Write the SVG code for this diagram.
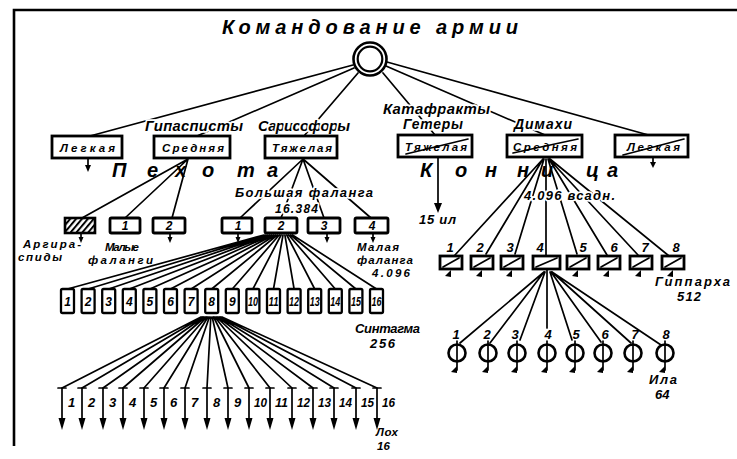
<svg xmlns="http://www.w3.org/2000/svg" width="737" height="459" viewBox="0 0 737 459">
<defs>
<pattern id="hatch" patternUnits="userSpaceOnUse" width="4.5" height="4.5" patternTransform="rotate(40)">
<rect width="4.5" height="4.5" fill="#fff"/>
<line x1="1" y1="0" x2="1" y2="4.5" stroke="#000" stroke-width="2"/>
</pattern>
</defs>
<style>
.t{font-family:"Liberation Sans","DejaVu Sans",Arial,sans-serif;font-style:italic;font-weight:bold;fill:#000}
.h{paint-order:stroke;stroke:#fff;stroke-width:3.5;stroke-linejoin:round}
.c{stroke:#000;stroke-width:1.7;fill:none;stroke-linecap:round}
.b{fill:#fff;stroke:#000;stroke-width:2.8}
.s{fill:#fff;stroke:#000;stroke-width:2.3}
.k{fill:#000;stroke:none}
.f{fill:none;stroke:#000;stroke-width:2.6}
.m{font-size:11.5px}
</style>
<rect width="737" height="459" fill="#fff"/>
<g id="frame"><path class="f" d="M14 446V10H737"/></g>

<text class="t" x="222" y="34" font-size="20" textLength="296" lengthAdjust="spacing">Командование армии</text>

<g id="connectors">
<path class="c" d="M353 65L90 136M354 68L197 136M358 73L304 136M383 73L435 135M386 66L545 135M387 62L652 136"/>
<path class="c" d="M188 159L82 218M188 159L125 218M188 159L172 218"/>
<path class="c" d="M303 159L240 218M303 159L281 218M303 159L324 218M303 159L371 218"/>
<path class="c" d="M264 235L67.5 289M265.9 235L88.1 289M267.8 235L108.7 289M269.7 235L129.3 289M271.6 235L149.9 289M273.5 235L170.5 289M275.4 235L191.1 289M277.3 235L211.7 289M279.2 235L232.3 289M281.1 235L252.9 289M283 235L273.5 289M284.9 235L294.1 289M286.8 235L314.7 289M288.7 235L335.3 289M290.6 235L355.9 289M292.5 235L376.5 289"/>
<path class="c" d="M201 317L62 388M202.4 317L82 388M203.8 317L103 388M205.2 317L123 388M206.6 317L144 388M208 317L164 388M209.4 317L185 388M210.8 317L207 388M212.2 317L228 388M213.6 317L249 388M215 317L270 388M216.4 317L292 388M217.8 317L313 388M219.2 317L334 388M220.6 317L356 388M222 317L377 388"/>
<path class="c" d="M438 157V205"/>
<polygon class="k" points="434,203 442,203 438,213"/>
<path class="c" d="M543 159L455 255M543 159L486 254M544 159L515 254M546 159L546 256M548 159L577 254M549 159L607 255M549 159L638 255M550 159L669 256"/>
<path class="c" d="M544 272L460 343M544 272L490 343M545 272L520 340M547 270L547 328M550 272L572 340M551 272L601 342M552 272L631 343M552 272L661 345"/>
</g>

<g id="labels">
<text class="t h" x="145" y="131" font-size="15" textLength="98" lengthAdjust="spacing">Гипасписты</text>
<text class="t h" x="258" y="131" font-size="15" textLength="92" lengthAdjust="spacing">Сарисофоры</text>
<text class="t h" x="383" y="114" font-size="15" textLength="107" lengthAdjust="spacing">Катафракты</text>
<text class="t h" x="403" y="129" font-size="14" textLength="60" lengthAdjust="spacing">Гетеры</text>
<text class="t h" x="514" y="129" font-size="14" textLength="58" lengthAdjust="spacing">Димахи</text>
<text class="t" x="112 147 175 202 237 267" y="177" font-size="20">Пехота</text>
<text class="t" x="420 455 485 517 541 586 607" y="177" font-size="20">Конница</text>
<text class="t h" x="235" y="197" font-size="13" textLength="138" lengthAdjust="spacing">Большая фаланга</text>
<text class="t h" x="275" y="213" font-size="12" textLength="43" lengthAdjust="spacing">16.384</text>
<text class="t h" x="524" y="200" font-size="13" textLength="91" lengthAdjust="spacing">4.096 всадн.</text>
<text class="t" x="419" y="224" font-size="13" textLength="37" lengthAdjust="spacing">15 ил</text>
<text class="t m" x="23" y="248" textLength="58" lengthAdjust="spacing">Аргира-</text>
<text class="t m" x="18" y="261" textLength="44" lengthAdjust="spacing">спиды</text>
<text class="t m" x="105" y="251" textLength="34" lengthAdjust="spacing">Малые</text>
<text class="t m" x="88" y="264" textLength="65" lengthAdjust="spacing">фаланги</text>
<text class="t m" x="357" y="251" textLength="42" lengthAdjust="spacing">Малая</text>
<text class="t m" x="357" y="264" textLength="56" lengthAdjust="spacing">фаланга</text>
<text class="t m" x="372" y="277" textLength="38" lengthAdjust="spacing">4.096</text>
<text class="t" x="355" y="333" font-size="13" textLength="65" lengthAdjust="spacing">Синтагма</text>
<text class="t" x="370" y="348" font-size="13" textLength="25" lengthAdjust="spacing">256</text>
<text class="t m" x="376" y="436" textLength="22" lengthAdjust="spacing">Лох</text>
<text class="t m" x="377" y="450">16</text>
<text class="t" x="655" y="286" font-size="13" textLength="75" lengthAdjust="spacing">Гиппарха</text>
<text class="t" x="677" y="301" font-size="13" textLength="24" lengthAdjust="spacing">512</text>
<text class="t" x="649" y="384" font-size="13" textLength="28" lengthAdjust="spacing">Ила</text>
<text class="t" x="655" y="399" font-size="13">64</text>
</g>

<g id="command">
<circle cx="370" cy="59" r="16.5" fill="#fff" stroke="#000" stroke-width="2.6"/>
<circle cx="370" cy="59" r="12.3" fill="#fff" stroke="#000" stroke-width="2.2"/>
</g>

<g id="inf-light"><rect class="b" x="52" y="136" width="70" height="22"/><text class="t" x="60" y="151.5" font-size="11.5" textLength="55" lengthAdjust="spacing">Легкая</text>
<path class="c" d="M88 158V166"/><polygon class="k" points="85,165 91,165 88,172"/></g>
<g id="inf-medium"><rect class="b" x="154" y="136" width="76" height="22"/><text class="t" x="162" y="151.5" font-size="11.5" textLength="62" lengthAdjust="spacing">Средняя</text></g>
<g id="inf-heavy"><rect class="b" x="265" y="136" width="72" height="22"/><text class="t" x="272" y="151.5" font-size="11.5" textLength="60" lengthAdjust="spacing">Тяжелая</text></g>

<g id="cav-heavy"><rect class="b" x="398" y="135" width="74" height="22"/><path class="c" stroke-width="1.2" d="M406 154L468 139"/><text class="t" x="405" y="150.5" font-size="11.5" textLength="62" lengthAdjust="spacing">Тяжелая</text></g>
<g id="cav-medium"><rect class="b" x="507" y="135" width="75" height="22"/><path class="c" stroke-width="1.2" d="M513 153L578 139"/><text class="t" x="513" y="150.5" font-size="11.5" textLength="64" lengthAdjust="spacing">Средняя</text></g>
<g id="cav-light"><rect class="b" x="615" y="135" width="73" height="22"/><path class="c" stroke-width="1.2" d="M623 155L684 139"/><text class="t" x="627" y="150.5" font-size="11.5" textLength="53" lengthAdjust="spacing">Легкая</text>
<path class="c" d="M653 157V163"/><polygon class="k" points="650,162 656,162 653,168"/></g>

<g id="argyraspids"><rect x="65" y="218" width="30" height="15" fill="url(#hatch)" stroke="#000" stroke-width="2.6"/>
<path class="c" d="M81 233V238"/><polygon class="k" points="78.5,237 83.5,237 81,243"/></g>
<g id="small-phalanx-1"><rect class="b" x="110" y="218" width="30" height="15" rx="1.5"/><text class="t" x="125" y="230" font-size="12" text-anchor="middle">1</text></g>
<g id="small-phalanx-2"><rect class="b" x="153" y="218" width="32" height="15" rx="1.5"/><text class="t" x="169" y="230" font-size="12" text-anchor="middle">2</text>
<path class="c" d="M170 233V238"/><polygon class="k" points="167.5,237 172.5,237 170,243"/></g>

<g id="big-phalanx-1"><rect class="b" x="222" y="218" width="30" height="15" rx="1.5"/><text class="t" x="238" y="230" font-size="12" text-anchor="middle">1</text>
<path class="c" d="M238 233V238"/><polygon class="k" points="235.5,237 240.5,237 238,243"/></g>
<g id="big-phalanx-2"><rect class="b" x="265" y="218" width="32" height="15" rx="1.5"/><text class="t" x="281" y="230" font-size="12" text-anchor="middle">2</text></g>
<g id="big-phalanx-3"><rect class="b" x="308" y="218" width="32" height="15" rx="1.5"/><text class="t" x="324" y="230" font-size="12" text-anchor="middle">3</text>
<path class="c" d="M327 233V238"/><polygon class="k" points="324.5,237 329.5,237 327,243"/></g>
<g id="big-phalanx-4"><rect class="b" x="355" y="218" width="33" height="15" rx="1.5"/><text class="t" x="372" y="230" font-size="12" text-anchor="middle">4</text>
<path class="c" d="M373 233V238"/><polygon class="k" points="370.5,237 375.5,237 373,243"/></g>

<g id="syntagmata" font-size="12">
<g id="syntagma-1"><rect class="s" x="61" y="289" width="13" height="24" rx="1.5"/><text class="t" x="67.5" y="305.5" text-anchor="middle">1</text></g>
<g id="syntagma-2"><rect class="s" x="81.6" y="289" width="13" height="24" rx="1.5"/><text class="t" x="88.1" y="305.5" text-anchor="middle">2</text></g>
<g id="syntagma-3"><rect class="s" x="102.2" y="289" width="13" height="24" rx="1.5"/><text class="t" x="108.7" y="305.5" text-anchor="middle">3</text></g>
<g id="syntagma-4"><rect class="s" x="122.8" y="289" width="13" height="24" rx="1.5"/><text class="t" x="129.3" y="305.5" text-anchor="middle">4</text></g>
<g id="syntagma-5"><rect class="s" x="143.4" y="289" width="13" height="24" rx="1.5"/><text class="t" x="149.9" y="305.5" text-anchor="middle">5</text></g>
<g id="syntagma-6"><rect class="s" x="164" y="289" width="13" height="24" rx="1.5"/><text class="t" x="170.5" y="305.5" text-anchor="middle">6</text></g>
<g id="syntagma-7"><rect class="s" x="184.6" y="289" width="13" height="24" rx="1.5"/><text class="t" x="191.1" y="305.5" text-anchor="middle">7</text></g>
<g id="syntagma-8"><rect class="s" x="205.2" y="289" width="13" height="24" rx="1.5"/><text class="t" x="211.7" y="305.5" text-anchor="middle">8</text></g>
<g id="syntagma-9"><rect class="s" x="225.8" y="289" width="13" height="24" rx="1.5"/><text class="t" x="232.3" y="305.5" text-anchor="middle">9</text></g>
<g id="syntagma-10"><rect class="s" x="246.4" y="289" width="13" height="24" rx="1.5"/><text class="t" x="247.9" y="305.5" textLength="10" lengthAdjust="spacingAndGlyphs">10</text></g>
<g id="syntagma-11"><rect class="s" x="267" y="289" width="13" height="24" rx="1.5"/><text class="t" x="268.5" y="305.5" textLength="10" lengthAdjust="spacingAndGlyphs">11</text></g>
<g id="syntagma-12"><rect class="s" x="287.6" y="289" width="13" height="24" rx="1.5"/><text class="t" x="289.1" y="305.5" textLength="10" lengthAdjust="spacingAndGlyphs">12</text></g>
<g id="syntagma-13"><rect class="s" x="308.2" y="289" width="13" height="24" rx="1.5"/><text class="t" x="309.7" y="305.5" textLength="10" lengthAdjust="spacingAndGlyphs">13</text></g>
<g id="syntagma-14"><rect class="s" x="328.8" y="289" width="13" height="24" rx="1.5"/><text class="t" x="330.3" y="305.5" textLength="10" lengthAdjust="spacingAndGlyphs">14</text></g>
<g id="syntagma-15"><rect class="s" x="349.4" y="289" width="13" height="24" rx="1.5"/><text class="t" x="350.9" y="305.5" textLength="10" lengthAdjust="spacingAndGlyphs">15</text></g>
<g id="syntagma-16"><rect class="s" x="370" y="289" width="13" height="24" rx="1.5"/><text class="t" x="371.5" y="305.5" textLength="10" lengthAdjust="spacingAndGlyphs">16</text></g>
</g>

<g id="files" font-size="13">
<g id="lox-1"><path class="c" d="M58 388H66M62 388V420"/><polygon class="k" points="58.5,418 65.5,418 62,430"/><text class="t" x="68" y="407">1</text></g>
<g id="lox-2"><path class="c" d="M78 388H86M82 388V420"/><polygon class="k" points="78.5,418 85.5,418 82,430"/><text class="t" x="88" y="407">2</text></g>
<g id="lox-3"><path class="c" d="M99 388H107M103 388V420"/><polygon class="k" points="99.5,418 106.5,418 103,430"/><text class="t" x="109" y="407">3</text></g>
<g id="lox-4"><path class="c" d="M119 388H127M123 388V420"/><polygon class="k" points="119.5,418 126.5,418 123,430"/><text class="t" x="129" y="407">4</text></g>
<g id="lox-5"><path class="c" d="M140 388H148M144 388V420"/><polygon class="k" points="140.5,418 147.5,418 144,430"/><text class="t" x="150" y="407">5</text></g>
<g id="lox-6"><path class="c" d="M160 388H168M164 388V420"/><polygon class="k" points="160.5,418 167.5,418 164,430"/><text class="t" x="170" y="407">6</text></g>
<g id="lox-7"><path class="c" d="M181 388H189M185 388V420"/><polygon class="k" points="181.5,418 188.5,418 185,430"/><text class="t" x="191" y="407">7</text></g>
<g id="lox-8"><path class="c" d="M203 388H211M207 388V420"/><polygon class="k" points="203.5,418 210.5,418 207,430"/><text class="t" x="213" y="407">8</text></g>
<g id="lox-9"><path class="c" d="M224 388H232M228 388V420"/><polygon class="k" points="224.5,418 231.5,418 228,430"/><text class="t" x="234" y="407">9</text></g>
<g id="lox-10"><path class="c" d="M245 388H253M249 388V420"/><polygon class="k" points="245.5,418 252.5,418 249,430"/><text class="t" x="254" y="407" textLength="13" lengthAdjust="spacingAndGlyphs">10</text></g>
<g id="lox-11"><path class="c" d="M266 388H274M270 388V420"/><polygon class="k" points="266.5,418 273.5,418 270,430"/><text class="t" x="275" y="407" textLength="13" lengthAdjust="spacingAndGlyphs">11</text></g>
<g id="lox-12"><path class="c" d="M288 388H296M292 388V420"/><polygon class="k" points="288.5,418 295.5,418 292,430"/><text class="t" x="297" y="407" textLength="13" lengthAdjust="spacingAndGlyphs">12</text></g>
<g id="lox-13"><path class="c" d="M309 388H317M313 388V420"/><polygon class="k" points="309.5,418 316.5,418 313,430"/><text class="t" x="318" y="407" textLength="13" lengthAdjust="spacingAndGlyphs">13</text></g>
<g id="lox-14"><path class="c" d="M330 388H338M334 388V420"/><polygon class="k" points="330.5,418 337.5,418 334,430"/><text class="t" x="339" y="407" textLength="13" lengthAdjust="spacingAndGlyphs">14</text></g>
<g id="lox-15"><path class="c" d="M352 388H360M356 388V420"/><polygon class="k" points="352.5,418 359.5,418 356,430"/><text class="t" x="361" y="407" textLength="13" lengthAdjust="spacingAndGlyphs">15</text></g>
<g id="lox-16"><path class="c" d="M373 388H381M377 388V420"/><polygon class="k" points="373.5,418 380.5,418 377,430"/><text class="t" x="382" y="407" textLength="13" lengthAdjust="spacingAndGlyphs">16</text></g>
</g>

<g id="hipparchies" font-size="13">
<g id="hipparchy-1"><rect class="b" x="440" y="256" width="22" height="13"/><path class="c" stroke-width="1.3" d="M443 267L459 258"/><polygon class="k" points="451,270 451,277 445,276"/><text class="t" x="450" y="252" text-anchor="middle">1</text></g>
<g id="hipparchy-2"><rect class="b" x="471" y="256" width="22" height="13"/><path class="c" stroke-width="1.3" d="M474 267L490 258"/><polygon class="k" points="482,270 482,277 476,276"/><text class="t" x="480" y="252" text-anchor="middle">2</text></g>
<g id="hipparchy-3"><rect class="b" x="501" y="256" width="22" height="13"/><path class="c" stroke-width="1.3" d="M504 267L520 258"/><polygon class="k" points="512,270 512,277 506,276"/><text class="t" x="510" y="252" text-anchor="middle">3</text></g>
<g id="hipparchy-4"><rect class="b" x="533" y="256" width="27" height="13"/><path class="c" stroke-width="1.3" d="M536 267L557 258"/><text class="t" x="540" y="252" text-anchor="middle">4</text></g>
<g id="hipparchy-5"><rect class="b" x="567" y="256" width="22" height="13"/><path class="c" stroke-width="1.3" d="M570 267L586 258"/><polygon class="k" points="578,270 578,277 572,276"/><text class="t" x="583" y="252" text-anchor="middle">5</text></g>
<g id="hipparchy-6"><rect class="b" x="598" y="256" width="22" height="13"/><path class="c" stroke-width="1.3" d="M601 267L617 258"/><polygon class="k" points="609,270 609,277 603,276"/><text class="t" x="614" y="252" text-anchor="middle">6</text></g>
<g id="hipparchy-7"><rect class="b" x="630" y="256" width="22" height="13"/><path class="c" stroke-width="1.3" d="M633 267L649 258"/><polygon class="k" points="641,270 641,277 635,276"/><text class="t" x="645" y="252" text-anchor="middle">7</text></g>
<g id="hipparchy-8"><rect class="b" x="662" y="256" width="22" height="13"/><path class="c" stroke-width="1.3" d="M665 267L681 258"/><polygon class="k" points="673,270 673,277 667,276"/><text class="t" x="676" y="252" text-anchor="middle">8</text></g>
</g>

<g id="ilai" font-size="13">
<g id="ile-1"><circle class="f" cx="457" cy="353" r="8.5"/><path class="c" d="M457 341V370"/><polygon class="k" points="457,366 457,373 451,372"/><text class="t" x="456" y="339" text-anchor="middle">1</text></g>
<g id="ile-2"><circle class="f" cx="488" cy="353" r="8.5"/><path class="c" d="M488 341V370"/><polygon class="k" points="488,366 488,373 482,372"/><text class="t" x="487" y="339" text-anchor="middle">2</text></g>
<g id="ile-3"><circle class="f" cx="517" cy="353" r="8.5"/><path class="c" d="M517 341V370"/><polygon class="k" points="517,366 517,373 511,372"/><text class="t" x="515" y="339" text-anchor="middle">3</text></g>
<g id="ile-4"><circle class="f" cx="547" cy="353" r="8.5"/><path class="c" d="M547 341V370"/><polygon class="k" points="547,366 547,373 541,372"/><text class="t" x="548" y="339" text-anchor="middle">4</text></g>
<g id="ile-5"><circle class="f" cx="575" cy="353" r="8.5"/><path class="c" d="M575 341V370"/><polygon class="k" points="575,366 575,373 569,372"/><text class="t" x="576" y="339" text-anchor="middle">5</text></g>
<g id="ile-6"><circle class="f" cx="603" cy="353" r="8.5"/><path class="c" d="M603 341V370"/><polygon class="k" points="603,366 603,373 597,372"/><text class="t" x="605" y="339" text-anchor="middle">6</text></g>
<g id="ile-7"><circle class="f" cx="633" cy="353" r="8.5"/><path class="c" d="M633 341V370"/><polygon class="k" points="633,366 633,373 627,372"/><text class="t" x="635" y="339" text-anchor="middle">7</text></g>
<g id="ile-8"><circle class="f" cx="665" cy="353" r="8.5"/><path class="c" d="M665 341V370"/><polygon class="k" points="665,366 665,373 659,372"/><text class="t" x="666" y="339" text-anchor="middle">8</text></g>
</g>
</svg>
